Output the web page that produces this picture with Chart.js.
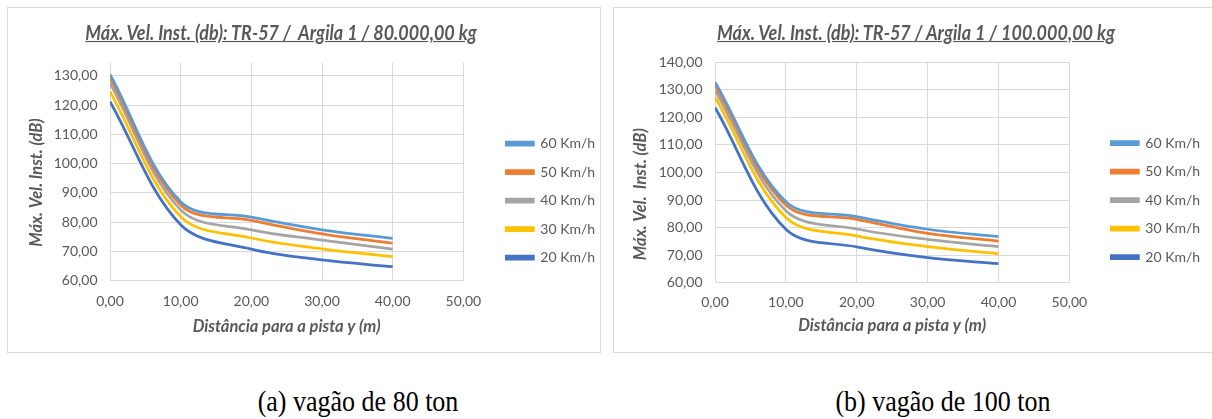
<!DOCTYPE html>
<html>
<head>
<meta charset="utf-8">
<script src="https://cdn.jsdelivr.net/npm/chart.js@4.4.1/dist/chart.umd.min.js"></script>
<style>
  body { margin: 0; width: 1212px; height: 419px; background: #fff; position: relative; overflow: hidden; font-family: Lato, sans-serif; }
  .box { position: absolute; top: 7px; height: 344px; border: 1px solid #d9d9d9; background: #fff; }
  #boxA { left: 7px; width: 592px; }
  #boxB { left: 613px; width: 600px; }
  .box canvas { position: absolute; left: 0; top: 0; }
  .ttl { position: absolute; top: 21px; font: italic bold 18px Lato, sans-serif; line-height: 22px; color: #595959;
         text-decoration: underline; white-space: pre; transform: translateX(-50%) scaleY(1.12); }
  .cap { position: absolute; top: 387px; font: 26px "Liberation Serif", serif; line-height: 30px; color: #000;
         white-space: pre; transform: translateX(-50%) scaleY(1.12); }
</style>
</head>
<body>
<div class="box" id="boxA"><canvas id="chartA" width="592" height="344"></canvas></div>
<div class="box" id="boxB"><canvas id="chartB" width="600" height="344"></canvas></div>
<div class="ttl" style="left:281px">Máx. Vel. Inst. (db): TR-57 /  Argila 1 / 80.000,00 kg</div>
<div class="ttl" style="left:916px">Máx. Vel. Inst. (db): TR-57 / Argila 1 / 100.000,00 kg</div>
<div class="cap" style="left:358px">(a) vagão de 80 ton</div>
<div class="cap" style="left:943px">(b) vagão de 100 ton</div>

<script>
// distance to the track (m)
const distances = [0, 10, 20, 30, 40];
const speeds = ['60 Km/h', '50 Km/h', '40 Km/h', '30 Km/h', '20 Km/h'];

// 80 ton wagon
const a60 = [130.5, 87.0, 81.7, 77.4, 74.5];
const a50 = [129.3, 85.9, 80.6, 76.0, 72.8];
const a40 = [127.5, 84.2, 77.4, 73.9, 70.8];
const a30 = [124.6, 81.9, 74.6, 70.9, 68.2];
const a20 = [121.2, 79.1, 70.8, 67.1, 64.8];

// 100 ton wagon
const b60 = [132.8, 89.4, 84.0, 79.4, 76.7];
const b50 = [131.6, 88.2, 83.0, 77.9, 75.1];
const b40 = [129.8, 86.1, 79.5, 75.7, 73.1];
const b30 = [127.3, 83.7, 77.0, 73.1, 70.5];
const b20 = [123.6, 79.4, 73.0, 69.1, 66.9];

const xTicks = [0, 10, 20, 30, 40, 50];

const colors = ['#5B9BD5', '#ED7D31', '#A5A5A5', '#FFC000', '#4472C4'];
const grey = '#595959';
const gridCol = '#d9d9d9';

const fmt = v => Number(v).toFixed(2).replace('.', ',');

// the legend sits a bit away from the plot, like Excel does
const legendGap = {
  id: 'legendGap',
  afterLayout(chart, args, opts) {
    const lg = chart.legend;
    if (!lg) return;
    const dx = chart.chartArea.right + opts.gap - lg.left;
    lg.left += dx;
    lg.right += dx;
  }
};

function makeChart(id, series, yMax, L) {
  const datasets = series.map((vals, i) => ({
    label: speeds[i],
    data: distances.map((d, j) => ({ x: d, y: vals[j] })),
    borderColor: colors[i],
    backgroundColor: colors[i],
    borderWidth: 2.75,
    pointRadius: 0,
    tension: 0.35,
    fill: false
  }));

  return new Chart(document.getElementById(id), {
    type: 'line',
    data: { datasets },
    plugins: [legendGap],
    options: {
      responsive: false,
      animation: false,
      events: [],
      layout: { padding: { top: L.top, bottom: L.bottom, left: 0, right: L.right } },
      plugins: {
        legendGap: { gap: L.gap },
        legend: {
          position: 'right',
          labels: {
            boxWidth: 27,
            boxHeight: 3,
            padding: 14.5,
            color: grey,
            font: { family: 'Lato', size: 14 }
          }
        },
        tooltip: { enabled: false }
      },
      scales: {
        x: {
          type: 'linear',
          min: 0,
          max: 50,
          afterBuildTicks: s => { s.ticks = xTicks.map(v => ({ value: v })); },
          afterFit: s => { s.height = L.xh; },
          grid: { color: gridCol, drawTicks: false },
          border: { display: false },
          ticks: { color: grey, padding: L.xPad, font: { family: 'Lato', size: 14 }, callback: fmt, maxRotation: 0 },
          title: {
            display: true,
            text: 'Distância para a pista y (m)',
            color: grey,
            padding: { top: 0, bottom: 2 },
            font: { family: 'Lato', size: 16.5, style: 'italic', weight: 'bold' }
          }
        },
        y: {
          min: 60,
          max: yMax,
          afterFit: s => { s.width = L.yw; },
          grid: { color: gridCol, drawTicks: false },
          border: { display: false },
          ticks: { stepSize: 10, includeBounds: false, color: grey, padding: 12.5, font: { family: 'Lato', size: 14 }, callback: fmt },
          title: {
            display: true,
            text: L.yTitle,
            color: grey,
            padding: { top: L.yTitlePad, bottom: 0 },
            font: { family: 'Lato', size: 16.5, style: 'italic', weight: 'bold' }
          }
        }
      }
    }
  });
}

makeChart('chartA', [a60, a50, a40, a30, a20], 134.5,
  { top: 54.7, bottom: 13.4, right: 23.4, gap: 28.5, yw: 102, xh: 57.9, xPad: 12.6, yTitlePad: 19.1,
    yTitle: 'Máx. Vel. Inst. (dB)      ' });
makeChart('chartB', [b60, b50, b40, b30, b20], 140,
  { top: 54.3, bottom: 14.1, right: 31.4, gap: 27.5, yw: 101, xh: 55.2, xPad: 11.6, yTitlePad: 17.1,
    yTitle: 'Máx. Vel.  Inst. (dB)            ' });
</script>
</body>
</html>
